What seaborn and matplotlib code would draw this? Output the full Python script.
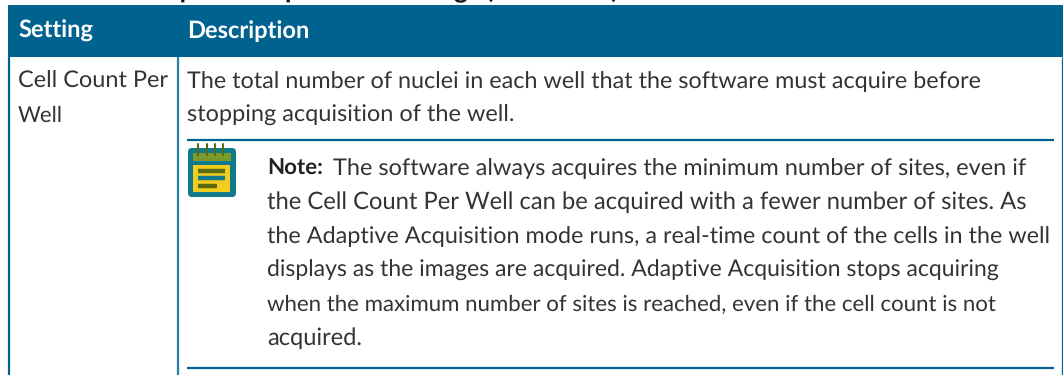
import matplotlib
matplotlib.use("Agg")
import matplotlib.pyplot as plt
from matplotlib.patches import Rectangle, FancyBboxPatch
import seaborn as sns

sns.set_theme(style="white")
plt.rcParams['font.family'] = ['Lato', 'DejaVu Sans']
plt.rcParams['text.hinting'] = 'no_hinting'

W, H = 1063, 375
BLUE = "#00628f"
TEXT = "#333333"

title = "Table 4-1: Adaptive Acquisition Settings (continued)"
headers = ["Setting", "Description"]
setting_lines = ["Cell Count Per", "Well"]
desc_lines = ["The total number of nuclei in each well that the software must acquire before",
              "stopping acquisition of the well."]
note_label = "Note:"
note_first = "The software always acquires the minimum number of sites, even if"
note_lines = ["the Cell Count Per Well can be acquired with a fewer number of sites. As",
              "the Adaptive Acquisition mode runs, a real-time count of the cells in the well",
              "displays as the images are acquired. Adaptive Acquisition stops acquiring",
              "when the maximum number of sites is reached, even if the cell count is not",
              "acquired."]

fig = plt.figure(figsize=(W/100, H/100), dpi=100)
ax = fig.add_axes([0, 0, 1, 1])
ax.set_xlim(0, W); ax.set_ylim(H, 0); ax.axis("off")

FS = 14.4
def fit(x, y, s, width, **kw):
    t = ax.text(x, y, s, va="baseline", fontsize=FS, color=kw.pop("color", TEXT), **kw)
    r = fig.canvas.get_renderer()
    t.set_fontsize(FS * width / t.get_window_extent(r).width)
    return t

fit(8, -1.5, title, 612, fontweight="bold", color="#111111")

ax.add_patch(Rectangle((8, 5), 1055, 52, color=BLUE, lw=0))
ax.plot([9, 9], [57, H], color=BLUE, lw=1.6, solid_capstyle="butt")
ax.plot([177.5, 177.5], [57, H], color="#2a7fa8", lw=1.6, solid_capstyle="butt")
ax.plot([1062, 1062], [57, H], color=BLUE, lw=0.9, solid_capstyle="butt")
ax.plot([187, 1054], [140, 140], color=BLUE, lw=1.6, solid_capstyle="butt")
ax.plot([187, 1054], [368, 368], color=BLUE, lw=1.6, solid_capstyle="butt")

fit(18, 38, headers[0], 75, color="white", fontweight="bold")
fit(187, 38, headers[1], 122, color="white", fontweight="bold")
fit(18, 88, setting_lines[0], 150)
fit(18, 122, setting_lines[1], 45)
fit(187, 88, desc_lines[0], 795)
fit(187, 122, desc_lines[1], 327)

# note icon
ax.add_patch(FancyBboxPatch((190, 150), 44, 45, boxstyle="round,pad=2,rounding_size=4",
                            fc="#0f7a8c", ec="none"))
ax.add_patch(Rectangle((193, 153), 38, 8, color="#7d9a2c", lw=0))
ax.add_patch(Rectangle((193, 165), 37, 27, color="#f2cd1e", lw=0))
for x0, x1, y, c in [(198, 225, 171, "#5a6a10"), (198, 225, 178, "#0f7a8c"), (198, 217, 186, "#5a6a10")]:
    ax.plot([x0, x1], [y, y], color=c, lw=3.2, solid_capstyle="butt")
for x in (198, 207, 215, 223):
    ax.plot([x, x], [144, 155], color="#5a6a10", lw=1.5)

fit(267, 175, note_label, 56, fontweight="bold", color="#222222")
fit(333, 175, note_first, 692)
for y, line, w in zip([209, 243, 277, 311, 345], note_lines, [760, 785, 733, 731, 95]):
    fit(267, y, line, w)

fig.savefig("out.png", dpi=100)
